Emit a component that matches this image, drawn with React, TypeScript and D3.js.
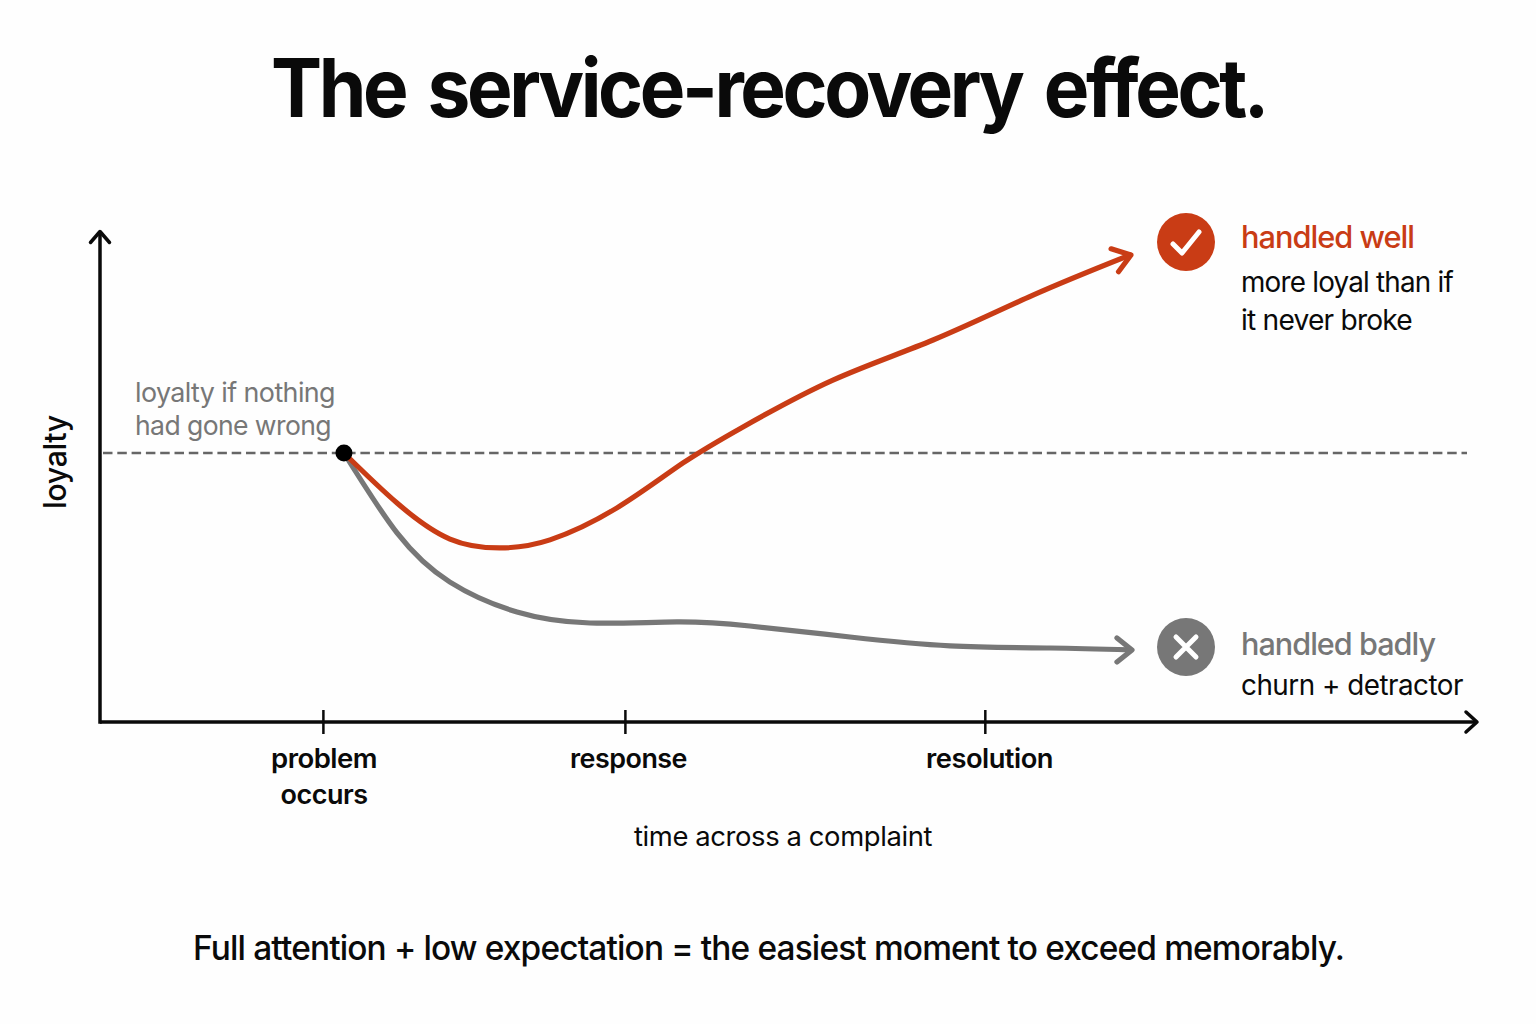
import React from "react";
import * as d3 from "d3";

const FONT = "Inter, 'Noto Sans', sans-serif";
const RED = "#c93c15";
const GREY = "#777777";
const INK = "#0a0a0a";

const titleText = "The service-recovery effect.";
const footerText = "Full attention + low expectation = the easiest moment to exceed memorably.";
const tickTimes = [16.2, 38.1, 64.2];
const tickLabels = [["problem", "occurs"], ["response"], ["resolution"]];
const baselineLoyalty = 100;
const eventTime = 17.69;

const wellTime = [17.69, 21.54, 25.38, 29.01, 32.63, 37.49, 42.28, 46.63, 53.15, 60.41, 67.66, 74.69];
const wellLoyalty = [100, 81.4, 68.0, 64.7, 67.7, 79.6, 96.3, 109.7, 127.1, 142.0, 158.7, 173.6];
const badTime = [17.69, 21.54, 25.38, 30.24, 35.53, 41.84, 47.12, 54.39, 61.64, 68.89, 74.69];
const badLoyalty = [100, 70.3, 52.0, 40.9, 36.8, 37.2, 35.7, 31.6, 28.3, 27.5, 26.8];

const x = d3.scaleLinear().domain([0, 100]).range([100, 1479]);
const y = d3.scaleLinear().domain([0, 100]).range([722, 453]);
const curve = d3.line<number>().x((d) => x(wellTime[d])).y((d) => y(wellLoyalty[d])).curve(d3.curveNatural);
const curveBad = d3.line<number>().x((d) => x(badTime[d])).y((d) => y(badLoyalty[d])).curve(d3.curveNatural);

const tickLabelLayout = [
  [{ cx: 324, w: 106 }, { cx: 324, w: 87 }],
  [{ cx: 628.5, w: 117 }],
  [{ cx: 989.5, w: 127 }],
];

function Arrow({ tx, ty, angle, dx, dy, color, width }: { tx: number; ty: number; angle: number; dx: number; dy: number; color: string; width: number }) {
  return (
    <path
      d={`M${-dx},${-dy} L0,0 L${-dx},${dy}`}
      transform={`translate(${tx},${ty}) rotate(${angle})`}
      fill="none"
      stroke={color}
      strokeWidth={width}
      strokeLinecap="round"
      strokeLinejoin="round"
    />
  );
}

export default function App() {
  const wellEnd = wellTime.length - 1;
  const badEnd = badTime.length - 1;
  const fit = (w: number, ls = 0) => ({ textLength: w, lengthAdjust: "spacingAndGlyphs" as const, letterSpacing: ls });
  return (
    <svg width={1536} height={1024} style={{ position: "absolute", left: 0, top: 0, background: "#fefefe" }} fontFamily={FONT}>
      <text x={768.5} y={117} textAnchor="middle" fontSize={81} fontWeight={700} fill={INK} wordSpacing={8} {...fit(995, -3.6)}>{titleText}</text>

      <line x1={x(0) + 3} y1={y(baselineLoyalty)} x2={1467} y2={y(baselineLoyalty)} stroke="#666" strokeWidth={2.5} strokeDasharray="9.5 4.8" />

      <line x1={x(0)} y1={232} x2={x(0)} y2={y(0) + 1.7} stroke={INK} strokeWidth={3.5} />
      <line x1={x(0)} y1={y(0)} x2={x(100) - 2} y2={y(0)} stroke={INK} strokeWidth={3.5} />
      <Arrow tx={x(0)} ty={231.5} angle={-90} dx={11} dy={9.5} color={INK} width={3.5} />
      <Arrow tx={x(100) - 2} ty={y(0)} angle={0} dx={11} dy={10} color={INK} width={3.5} />

      {tickTimes.map((t, i) => (
        <g key={i}>
          <line x1={x(t)} x2={x(t)} y1={y(0) - 12} y2={y(0) + 12} stroke={INK} strokeWidth={2.5} />
          {tickLabels[i].map((s, j) => (
            <text key={j} x={tickLabelLayout[i][j].cx} y={768 + j * 36} textAnchor="middle" fontSize={27} fontWeight={600} fill={INK} {...fit(tickLabelLayout[i][j].w, -0.5)}>{s}</text>
          ))}
        </g>
      ))}

      <text transform="translate(66,462) rotate(-90)" textAnchor="middle" fontSize={31} fontWeight={500} fill={INK} {...fit(94, -0.4)}>loyalty</text>
      <text x={135} y={402} fontSize={27} fill={GREY} {...fit(200, -0.6)}>loyalty if nothing</text>
      <text x={135} y={435} fontSize={27} fill={GREY} {...fit(196, -0.6)}>had gone wrong</text>

      <path d={curveBad(d3.range(badTime.length)) ?? ""} fill="none" stroke={GREY} strokeWidth={5.2} strokeLinecap="round" />
      <path d={curve(d3.range(wellTime.length)) ?? ""} fill="none" stroke={RED} strokeWidth={5.2} strokeLinecap="round" />
      <Arrow tx={x(wellTime[wellEnd]) + 1} ty={y(wellLoyalty[wellEnd])} angle={-18} dx={17} dy={12} color={RED} width={5.2} />
      <Arrow tx={x(badTime[badEnd]) + 2} ty={y(badLoyalty[badEnd])} angle={0} dx={15} dy={12} color={GREY} width={5.2} />
      <circle cx={x(eventTime)} cy={y(baselineLoyalty)} r={8.5} fill="#000" />

      <circle cx={1186} cy={242} r={29} fill={RED} />
      <path d="M1173,244 L1182,253 L1199,232" fill="none" stroke="#fff" strokeWidth={5} strokeLinecap="round" strokeLinejoin="round" />
      <text x={1241} y={248} fontSize={31} fontWeight={500} fill={RED} {...fit(173, -1)}>handled well</text>
      <text x={1241} y={292} fontSize={28} fill={INK} {...fit(212, -0.8)}>more loyal than if</text>
      <text x={1241} y={330} fontSize={28} fill={INK} {...fit(171, -0.8)}>it never broke</text>

      <circle cx={1186} cy={647} r={29} fill={GREY} />
      <path d="M1176,637 L1196,657 M1196,637 L1176,657" fill="none" stroke="#fff" strokeWidth={5} strokeLinecap="round" />
      <text x={1241} y={655} fontSize={31} fontWeight={500} fill={GREY} {...fit(194, -1)}>handled badly</text>
      <text x={1241} y={695} fontSize={28} fill={INK} {...fit(222, -0.5)}>churn + detractor</text>

      <text x={783} y={846} textAnchor="middle" fontSize={27} fill={INK} {...fit(298, -0.4)}>time across a complaint</text>
      <text x={768.5} y={959.5} textAnchor="middle" fontSize={33.5} fontWeight={500} fill={INK} {...fit(1151, -0.85)}>{footerText}</text>
    </svg>
  );
}
